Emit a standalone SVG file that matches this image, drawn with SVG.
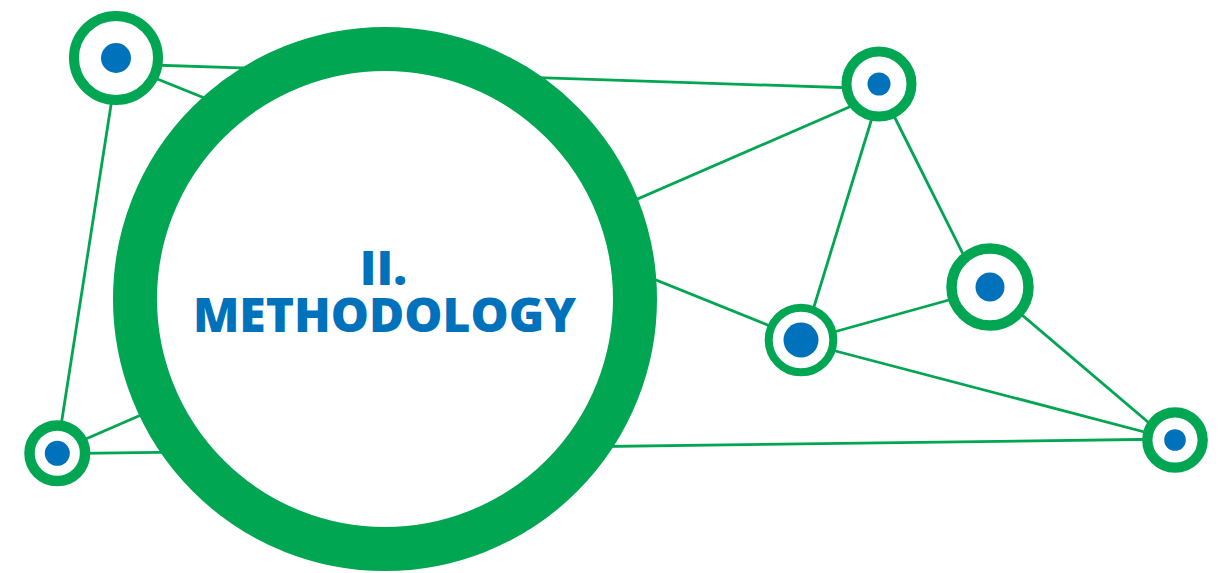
<svg xmlns="http://www.w3.org/2000/svg" width="1226" height="573" viewBox="0 0 1226 573">
<style>
.ln{stroke:#00A651;stroke-width:2.8;fill:none}
.ring{fill:#fff;stroke:#00A651}
.dot{fill:#0072BC}
.title{font-family:"Open Sans","Noto Sans",sans-serif;font-weight:800;font-size:48px;fill:#0072BC;text-anchor:middle}
</style>
<rect width="1226" height="573" fill="#fff"/>
<g id="connectors">
<line class="ln" x1="120" y1="64" x2="870" y2="88.5"/>
<line class="ln" x1="120" y1="64" x2="800" y2="338"/>
<line class="ln" x1="118" y1="60" x2="58" y2="445"/>
<line class="ln" x1="57" y1="451.5" x2="870" y2="98"/>
<line class="ln" x1="60" y1="453.6" x2="1175" y2="439"/>
<line class="ln" x1="876" y1="105" x2="805" y2="336"/>
<line class="ln" x1="886" y1="100" x2="985" y2="298"/>
<line class="ln" x1="805" y1="340" x2="985" y2="290"/>
<line class="ln" x1="805" y1="343" x2="1175" y2="440"/>
<line class="ln" x1="995" y1="292" x2="1175" y2="445"/>
</g>
<g id="hub">
<circle cx="385" cy="299" r="250" fill="#fff" stroke="#00A651" stroke-width="44"/>
<text class="title" x="383.5" y="285">II.</text>
<text class="title" x="384.5" y="332.3">METHODOLOGY</text>
</g>
<g id="node1"><circle class="ring" cx="116" cy="58" r="42" stroke-width="10"/><circle class="dot" cx="116" cy="58" r="15"/></g>
<g id="node2"><circle class="ring" cx="879" cy="84" r="32.5" stroke-width="10"/><circle class="dot" cx="879" cy="84" r="11.5"/></g>
<g id="node3"><circle class="ring" cx="990" cy="287" r="38.5" stroke-width="10.5"/><circle class="dot" cx="990" cy="287" r="14.5"/></g>
<g id="node4"><circle class="ring" cx="801" cy="340" r="32.3" stroke-width="8"/><circle class="dot" cx="801" cy="340" r="17.5"/></g>
<g id="node5"><circle class="ring" cx="1175" cy="440" r="27.7" stroke-width="10.3"/><circle class="dot" cx="1175" cy="440" r="10.8"/></g>
<g id="node6"><circle class="ring" cx="57.3" cy="453.3" r="27.8" stroke-width="10.5"/><circle class="dot" cx="57.3" cy="453.3" r="12.5"/></g>
</svg>
